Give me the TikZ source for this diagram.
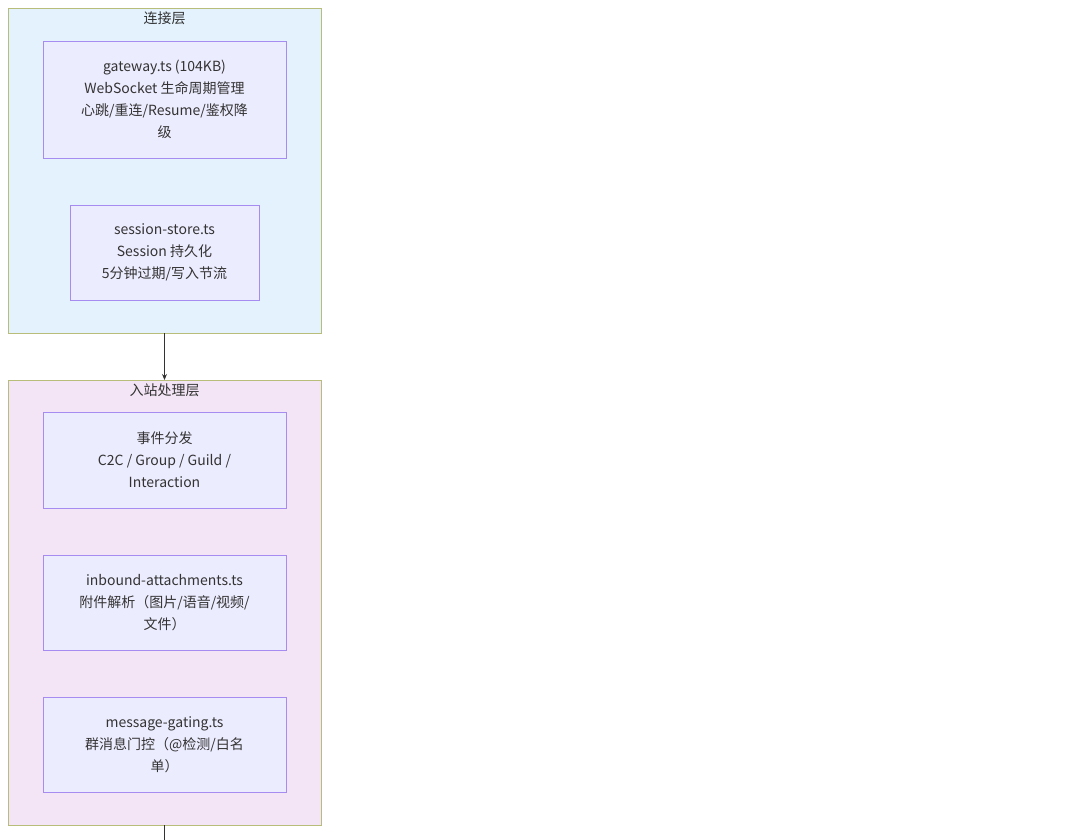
\documentclass[tikz,border=0pt]{standalone}
\usepackage{fontspec}
\setmainfont{Liberation Sans}
\newfontfamily\cjk{Noto Sans CJK SC}
\usetikzlibrary{arrows.meta}
\begin{document}
\begin{tikzpicture}[x=1pt,y=-1pt,
  grp/.style={draw=black!30!yellow!60!gray, line width=0.8pt},
  box/.style={draw=purple!40!blue!60!white, fill=boxf, line width=0.8pt},
  lbl/.style={font=\fontsize{14}{22}\selectfont\cjk, align=center, text=black!80},
  arr/.style={draw=black!80, line width=0.9pt, -{Stealth[length=6pt,width=5pt]}}]
\definecolor{boxf}{HTML}{ECECFF}
\definecolor{gA}{HTML}{E3F2FD}
\definecolor{gB}{HTML}{F3E5F5}
\definecolor{gbd}{HTML}{B8BD7A}
\definecolor{bbd}{HTML}{A68BF0}
\tikzset{grp/.style={draw=gbd, line width=0.8pt}, box/.style={draw=bbd, fill=boxf, line width=0.8pt}}
\useasboundingbox (0,0) rectangle (1080,840);
\path[grp, fill=gA] (8,8) rectangle (321,333);
\node[lbl] (t1) at (164.5,18) {连接层};
\path[grp, fill=gB] (8,380) rectangle (321,825);
\node[lbl] (t2) at (164.5,390) {入站处理层};
\node[box, minimum width=243, minimum height=117] (gw) at (164.5,99.5) {};
\node[lbl] at (gw) {gateway.ts (104KB)\\WebSocket 生命周期管理\\心跳/重连/Resume/鉴权降\\级};
\node[box, minimum width=189, minimum height=95] (ss) at (164.5,252.5) {};
\node[lbl] at (ss) {session-store.ts\\Session 持久化\\5分钟过期/写入节流};
\node[box, minimum width=243, minimum height=96] (ev) at (164.5,460) {};
\node[lbl] at (ev) {事件分发\\C2C / Group / Guild /\\Interaction};
\node[box, minimum width=243, minimum height=95] (ia) at (164.5,602.5) {};
\node[lbl] at (ia) {inbound-attachments.ts\\附件解析（图片/语音/视频/\\文件）};
\node[box, minimum width=243, minimum height=95] (mg) at (164.5,744.5) {};
\node[lbl] at (mg) {message-gating.ts\\群消息门控（@检测/白名\\单）};
\coordinate (a1) at (164.5,333);
\coordinate (a2) at (164.5,380);
\coordinate (b1) at (164.5,825);
\coordinate (b2) at (164.5,842);
\draw[arr] (a1) -- (a2);
\draw[draw=black!80, line width=0.9pt] (b1) -- (b2);
\end{tikzpicture}
\end{document}
